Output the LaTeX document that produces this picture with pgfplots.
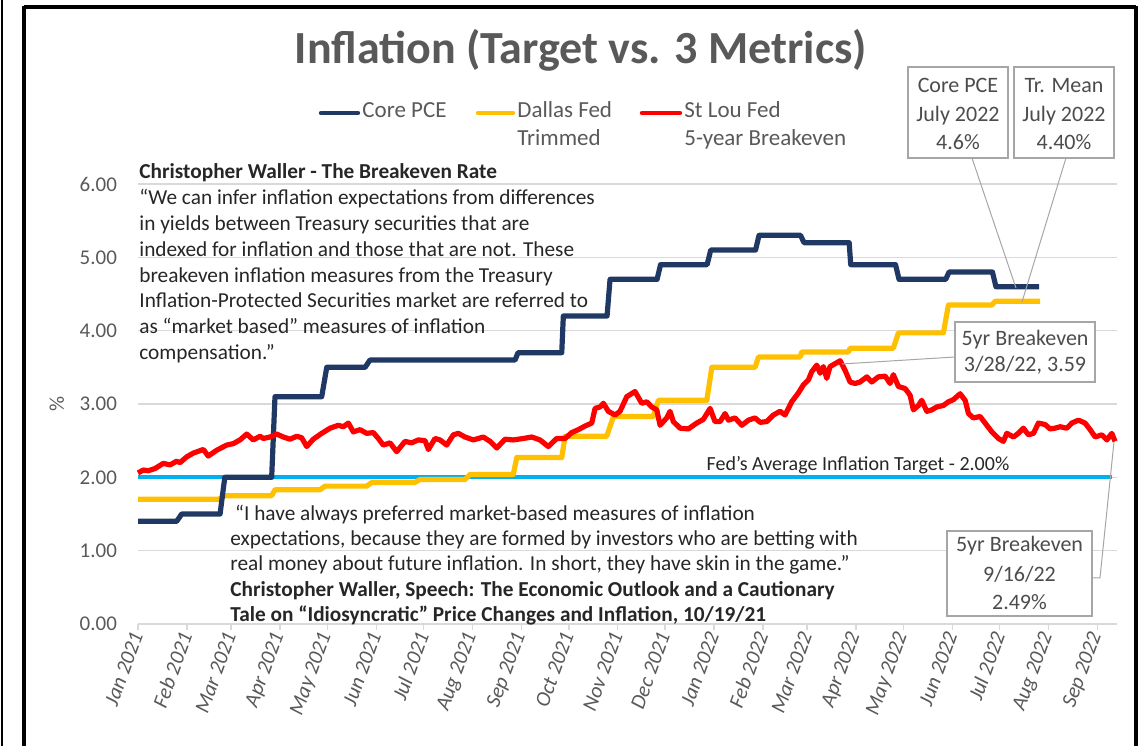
\documentclass[border=0pt]{standalone}
\usepackage{pgfplots}
\pgfplotsset{compat=1.18}
\usepackage{fontspec}
\setmainfont{Carlito}
\definecolor{navy}{HTML}{203864}
\definecolor{gold}{HTML}{FFC000}
\definecolor{redl}{HTML}{FF0000}
\definecolor{cyanl}{HTML}{00B0F0}
\definecolor{titlegray}{HTML}{595959}
\definecolor{txt}{HTML}{262626}
\definecolor{boxgray}{HTML}{A6A6A6}
\definecolor{gridgray}{HTML}{D9D9D9}
\begin{document}
\begin{tikzpicture}
\useasboundingbox (0,0) rectangle (571bp,373bp);
\begin{axis}[
  scale only axis, width=489.25bp, height=220bp,
  at={(69bp,61bp)}, anchor=south west,
  xmin=0, xmax=620, ymin=0, ymax=6,
  clip=false,
  axis line style={draw=none},
  ymajorgrids, grid style={color=gridgray, line width=0.7bp},
  ytick={0,1,2,3,4,5,6},
  xtick={0,31,59,90,120,151,181,212,243,273,304,334,365,396,424,455,485,516,546,577,608},
  xticklabels={Jan 2021,Feb 2021,Mar 2021,Apr 2021,May 2021,Jun 2021,Jul 2021,Aug 2021,Sep 2021,Oct 2021,Nov 2021,Dec 2021,Jan 2022,Feb 2022,Mar 2022,Apr 2022,May 2022,Jun 2022,Jul 2022,Aug 2022,Sep 2022},
  tick align=outside, major tick length=3bp,
  xtick pos=bottom, ytick style={draw=none},
  xtick style={draw=gridgray, line width=0.7bp},
  x tick label style={rotate=70, anchor=east, font=\fontsize{10.6bp}{12bp}\selectfont\itshape, text=titlegray, inner sep=1.5bp},
  y tick label style={font=\fontsize{10.5bp}{12bp}\selectfont, text=titlegray, /pgf/number format/fixed, /pgf/number format/fixed zerofill, /pgf/number format/precision=2, xshift=-4bp},
  /pgf/number format/assume math mode=true,
  ylabel={\%}, ylabel style={at={(axis description cs:-0.083,0.5)}, anchor=center, font=\fontsize{10.5bp}{12bp}\selectfont, text=titlegray},
]
% Fed target
\addplot[cyanl, line width=2bp] coordinates {(0,2.0) (617,2.0)};
% Dallas Fed trimmed mean
\addplot[gold, line width=2.6bp, line join=round] coordinates {
(0,1.70)(50.9,1.70)(55.1,1.75)(84.7,1.75)(86.8,1.83)(115.3,1.83)(118.5,1.88)(144.9,1.88)(148.1,1.93)(175.5,1.93)(178.7,1.97)(207.2,1.97)(210.4,2.04)(237.8,2.04)(240,2.27)(268.5,2.27)(270.6,2.56)(297,2.56)(301.2,2.83)(326.5,2.83)(329.7,3.05)(360.4,3.05)(363.6,3.50)(391,3.50)(393.1,3.64)(419.5,3.64)(420.6,3.71)(450.1,3.71)(451.2,3.76)(478.6,3.76)(481.8,3.97)(510.3,3.97)(513.5,4.35)(541,4.35)(543.1,4.40)(571.6,4.40)};
% Core PCE
\addplot[navy, line width=2.6bp, line join=round] coordinates {
(0,1.4)(24.5,1.4)(27.7,1.5)(52,1.5)(55,2.0)(84.7,2.0)(86.8,3.1)(116.4,3.1)(119.6,3.5)(143.9,3.5)(147,3.6)(238.9,3.6)(240.8,3.7)(268.5,3.7)(269.5,4.2)(297.2,4.2)(299.1,4.7)(328.9,4.7)(331.1,4.9)(360.6,4.9)(362.9,5.1)(391.3,5.1)(393.5,5.3)(419.8,5.3)(422,5.2)(450.6,5.2)(451.6,4.9)(480,4.9)(482.2,4.7)(511.8,4.7)(513.9,4.8)(541.4,4.8)(543.6,4.6)(571,4.6)};
% 5-year breakeven
\addplot[redl, line width=2.6bp, line join=round] coordinates {
(0,2.06)(3.4,2.10)(6.5,2.09)(10.8,2.12)(16,2.19)(20.3,2.17)(24.5,2.22)(26.6,2.20)(30.9,2.28)(35,2.33)(41.4,2.38)(44.5,2.29)(49.9,2.37)(56.2,2.44)(60.4,2.46)(64.6,2.51)(68.9,2.59)(73.1,2.51)(77.3,2.56)(79.4,2.53)(83.6,2.55)(87.9,2.59)(92.1,2.55)(96.3,2.52)(100.6,2.56)(103.7,2.54)(106.9,2.42)(111.1,2.52)(116.4,2.60)(121.7,2.67)(126.9,2.71)(130.1,2.69)(133.3,2.74)(136.4,2.62)(140.7,2.65)(144.9,2.60)(149.1,2.61)(152.3,2.53)(155.4,2.44)(159.7,2.47)(163.9,2.35)(169.2,2.49)(173.4,2.47)(177.6,2.51)(181.9,2.50)(184,2.38)(188.2,2.53)(191.4,2.51)(195.6,2.44)(199.8,2.58)(203,2.60)(207.2,2.55)(212.5,2.51)(218.8,2.55)(223.1,2.49)(227.3,2.40)(232.6,2.52)(237.8,2.51)(244.2,2.53)(249.5,2.55)(254.7,2.51)(260,2.42)(265.3,2.53)(270.6,2.53)(274.8,2.61)(279,2.65)(283.3,2.70)(287.5,2.74)(289.6,2.94)(292.8,2.96)(294.9,3.01)(298,2.90)(302.3,2.85)(305.4,2.90)(309.7,3.10)(314.9,3.17)(319.2,3.01)(322.4,3.03)(325.5,2.96)(328.7,2.92)(330.8,2.71)(335,2.81)(337.1,2.90)(339.2,2.76)(343.5,2.67)(348.7,2.66)(354,2.74)(358.2,2.79)(362.5,2.94)(365.6,2.76)(368.8,2.76)(372,2.87)(374.1,2.78)(378.3,2.81)(382.6,2.71)(386.8,2.78)(391,2.81)(394.2,2.75)(398.4,2.76)(402.6,2.85)(406.8,2.90)(410,2.85)(414.2,3.03)(418.4,3.15)(421.6,3.26)(424.8,3.33)(426.9,3.44)(430.1,3.53)(432.2,3.42)(434.3,3.51)(436.4,3.35)(438.5,3.51)(441.7,3.55)(444.9,3.59)(448,3.46)(451.2,3.30)(454.4,3.28)(457.5,3.30)(461.8,3.37)(464.9,3.30)(469.1,3.37)(473.4,3.38)(476.5,3.28)(478.6,3.40)(481.8,3.24)(486.1,3.21)(489.2,3.12)(491.3,2.92)(494.5,2.98)(496.6,3.05)(499.8,2.90)(503,2.92)(506.1,2.96)(510.3,2.98)(513.5,3.03)(516.7,3.06)(520.9,3.14)(524.1,3.05)(526.2,2.87)(529.3,2.81)(533.6,2.83)(537.8,2.71)(541,2.62)(545.2,2.53)(548.3,2.49)(550.5,2.60)(554.7,2.55)(557.8,2.60)(561,2.67)(564.2,2.58)(567.4,2.60)(570.5,2.74)(574.8,2.72)(577.9,2.66)(581,2.67)(584.3,2.69)(588.5,2.67)(591.7,2.74)(595.9,2.78)(600.1,2.74)(603.3,2.65)(606.5,2.55)(610.7,2.58)(613.9,2.51)(617,2.60)(619.1,2.49)};
\end{axis}
\begin{scope}[shift={(0bp,373bp)}, x=0.5bp, y=-0.5bp]
% frame
\draw[black, line width=1.6bp] (24,7) -- (1136,7);
\draw[black, line width=1.6bp] (24,6) -- (24,760);
\draw[black, line width=1.6bp] (1136,6) -- (1136,760);
\draw[black, line width=1.2bp] (2,0) -- (2,760);
% title
\node[font=\fontsize{23bp}{26bp}\selectfont\bfseries, text=titlegray, anchor=base] at (581,64) {Inflation (Target vs. 3 Metrics)};
% legend
\begin{scope}[font=\fontsize{11.5bp}{13bp}\selectfont, text=titlegray]
\draw[navy, line width=2.2bp, line cap=round] (321,113) -- (358,113);
\node[anchor=base west, inner sep=0] at (362,118) {Core PCE};
\draw[gold, line width=2.2bp, line cap=round] (478,113) -- (513,113);
\node[anchor=base west, inner sep=0] at (517,118) {Dallas Fed};
\node[anchor=base west, inner sep=0] at (517,146) {Trimmed};
\draw[redl, line width=2.2bp, line cap=round] (642,113) -- (680,113);
\node[anchor=base west, inner sep=0] at (684,118) {St Lou Fed};
\node[anchor=base west, inner sep=0] at (684,146) {5-year Breakeven};
\end{scope}
% upper quote
\begin{scope}[font=\fontsize{10.65bp}{13bp}\selectfont, text=txt]
\node[anchor=base west, inner sep=0, font=\fontsize{10.65bp}{13bp}\selectfont\bfseries] at (139,179) {Christopher Waller - The Breakeven Rate};
\node[anchor=base west, inner sep=0] at (139,205) {“We can infer inflation expectations from differences};
\node[anchor=base west, inner sep=0] at (139,230.7) {in yields between Treasury securities that are};
\node[anchor=base west, inner sep=0] at (139,256.4) {indexed for inflation and those that are not. These};
\node[anchor=base west, inner sep=0] at (139,282.1) {breakeven inflation measures from the Treasury};
\node[anchor=base west, inner sep=0] at (139,307.8) {Inflation-Protected Securities market are referred to};
\node[anchor=base west, inner sep=0] at (139,333.5) {as “market based” measures of inflation};
\node[anchor=base west, inner sep=0] at (139,359.2) {compensation.”};
% lower quote
\node[anchor=base west, inner sep=0] at (230,520.5) {\ “I have always preferred market-based measures of inflation};
\node[anchor=base west, inner sep=0] at (230,545.7) {expectations, because they are formed by investors who are betting with};
\node[anchor=base west, inner sep=0] at (230,570.9) {real money about future inflation. In short, they have skin in the game.”};
\node[anchor=base west, inner sep=0, font=\fontsize{10.65bp}{13bp}\selectfont\bfseries] at (230,596.6) {Christopher Waller, Speech: The Economic Outlook and a Cautionary};
\node[anchor=base west, inner sep=0, font=\fontsize{10.65bp}{13bp}\selectfont\bfseries] at (230,621.8) {Tale on “Idiosyncratic” Price Changes and Inflation, 10/19/21};
% target label
\node[anchor=base, inner sep=0, font=\fontsize{10bp}{12bp}\selectfont] at (858,470.5) {Fed's Average Inflation Target - 2.00\%};
\end{scope}
% annotation leader lines
\draw[boxgray, line width=0.5bp] (972,158) -- (1016,288);
\draw[boxgray, line width=0.5bp] (1066,158) -- (1022,302);
\draw[boxgray, line width=0.5bp] (955,357) -- (842,364);
\draw[boxgray, line width=0.5bp] (1092,578) -- (1100,578) -- (1114,442);
% annotation boxes
\begin{scope}[font=\fontsize{11bp}{14.2bp}\selectfont, text=titlegray!85!black]
\draw[boxgray, fill=white, line width=0.7bp] (908,67) rectangle (1008,158);
\node[anchor=base, inner sep=0] at (958,93) {Core PCE};
\node[anchor=base, inner sep=0] at (958,121.5) {July 2022};
\node[anchor=base, inner sep=0] at (958,150) {4.6\%};
\draw[boxgray, fill=white, line width=0.7bp] (1014,67) rectangle (1114,158);
\node[anchor=base, inner sep=0] at (1064,93) {Tr. Mean};
\node[anchor=base, inner sep=0] at (1064,121.5) {July 2022};
\node[anchor=base, inner sep=0] at (1064,150) {4.40\%};
\draw[boxgray, fill=white, line width=0.7bp] (955,322) rectangle (1095,382);
\node[anchor=base, inner sep=0] at (1025,346) {5yr Breakeven};
\node[anchor=base, inner sep=0] at (1025,372) {3/28/22, 3.59};
\draw[boxgray, fill=white, line width=0.7bp] (947,531) rectangle (1092,616);
\node[anchor=base, inner sep=0] at (1019.5,552) {5yr Breakeven};
\node[anchor=base, inner sep=0] at (1019.5,582) {9/16/22};
\node[anchor=base, inner sep=0] at (1019.5,610) {2.49\%};
\end{scope}
\end{scope}
\end{tikzpicture}
\end{document}
